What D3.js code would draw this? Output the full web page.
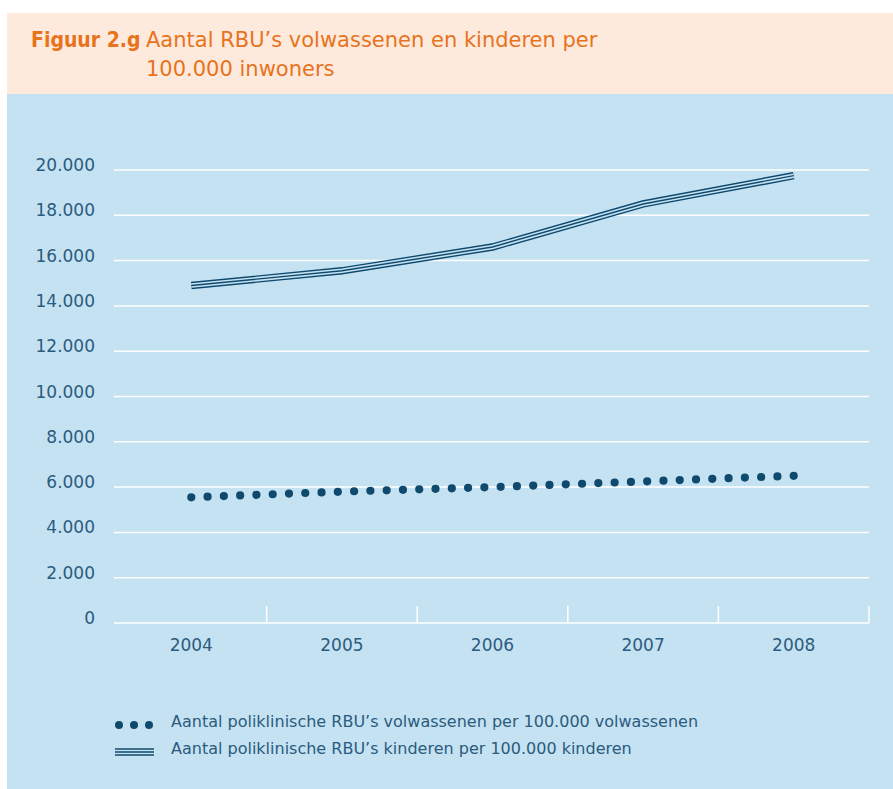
<!DOCTYPE html>
<head>
  <meta charset = "utf-8">
  <title>Figuur 2.g</title>
  <script src = "https://cdn.jsdelivr.net/npm/d3@7"></script>
  <style>
    body { margin: 0; background: #fff; }
    text { font-family: "DejaVu Sans", sans-serif; }
  </style>
</head>

<body>

  <script type="text/javascript">
    var WIDTH = 893;
    var HEIGHT = 789;

    //===========data
    var years = ["2004", "2005", "2006", "2007", "2008"];
    var volwassenen = [5550, 5800, 6000, 6250, 6500];   // per 100.000 volwassenen
    var kinderen = [14900, 15550, 16600, 18500, 19750]; // per 100.000 kinderen
    var yTicks = [0, 2000, 4000, 6000, 8000, 10000, 12000, 14000, 16000, 18000, 20000];
    var legendLabels = [
      "Aantal poliklinische RBU\u2019s volwassenen per 100.000 volwassenen",
      "Aantal poliklinische RBU\u2019s kinderen per 100.000 kinderen"
    ];

    var ORANGE = "#e8731d";
    var PEACH = "#fdeadc";
    var PANEL = "#c5e2f3";
    var DARK = "#0f4a6e";
    var TEXT = "#2b5b7d";

    var svg = d3.select("body").append("svg")
                .attr("width",  WIDTH)
                .attr("height", HEIGHT);

    //===========background boxes
    svg.append("rect")
      .attr("x", 7).attr("y", 13)
      .attr("width", WIDTH - 7).attr("height", 81)
      .attr("fill", PEACH);
    svg.append("rect")
      .attr("x", 7).attr("y", 94)
      .attr("width", WIDTH - 7).attr("height", HEIGHT - 94)
      .attr("fill", PANEL);

    //===========title
    svg.append("text")
      .attr("x", 31).attr("y", 47)
      .attr("fill", ORANGE)
      .attr("font-weight", "bold")
      .style("font-family", "'DejaVu Sans Condensed', 'DejaVu Sans', sans-serif")
      .style("font-size", "21px")
      .text("Figuur 2.g");
    svg.append("text")
      .attr("x", 146).attr("y", 47)
      .attr("fill", ORANGE)
      .style("font-size", "21px")
      .text("Aantal RBU\u2019s volwassenen en kinderen per");
    svg.append("text")
      .attr("x", 146).attr("y", 76)
      .attr("fill", ORANGE)
      .style("font-size", "21px")
      .text("100.000 inwoners");

    //===========scales
    var x = d3.scaleBand()
              .domain(years)
              .range([116, 869]);
    var y = d3.scaleLinear()
              .domain([0, 20000])
              .range([623, 170]);

    var nl = d3.formatLocale({decimal: ",", thousands: ".", grouping: [3], currency: ["€", ""]});
    var fmt = nl.format(",d");

    //===========grid + y labels
    svg.selectAll("line.grid")
      .data(yTicks)
      .enter().append("line")
      .attr("class", "grid")
      .attr("x1", 114).attr("x2", 869)
      .attr("y1", function(d){ return y(d); })
      .attr("y2", function(d){ return y(d); })
      .attr("stroke", "#fff")
      .attr("stroke-width", 1.5);

    svg.selectAll("text.ylab")
      .data(yTicks)
      .enter().append("text")
      .attr("class", "ylab")
      .attr("x", 95)
      .attr("y", function(d){ return y(d) + 1; })
      .attr("text-anchor", "end")
      .attr("fill", TEXT)
      .style("font-size", "17px")
      .text(fmt);

    //===========x ticks + labels
    svg.selectAll("line.xtick")
      .data(years)
      .enter().append("line")
      .attr("class", "xtick")
      .attr("x1", function(d){ return x(d) + x.bandwidth(); })
      .attr("x2", function(d){ return x(d) + x.bandwidth(); })
      .attr("y1", 606).attr("y2", y(0))
      .attr("stroke", "#fff")
      .attr("stroke-width", 1.5);

    svg.selectAll("text.xlab")
      .data(years)
      .enter().append("text")
      .attr("class", "xlab")
      .attr("x", function(d){ return x(d) + x.bandwidth() / 2; })
      .attr("y", 651)
      .attr("text-anchor", "middle")
      .attr("fill", TEXT)
      .style("font-size", "17px")
      .text(function(d){ return d; });

    //===========lines
    var line = d3.line()
                 .x(function(d, i){ return x(years[i]) + x.bandwidth() / 2; })
                 .y(function(d){ return y(d); });

    // triple line: dark, panel colour, dark
    [[7.4, DARK], [4.6, PANEL], [1.4, DARK]].forEach(function(s){
      svg.append("path")
        .attr("d", line(kinderen))
        .attr("fill", "none")
        .attr("stroke", s[1])
        .attr("stroke-width", s[0]);
    });

    // dotted line, spacing fitted so the last dot sits on 2008
    var dots = svg.append("path")
      .attr("d", line(volwassenen))
      .attr("fill", "none")
      .attr("stroke", DARK)
      .attr("stroke-width", 8.2)
      .attr("stroke-linecap", "round");
    var len = dots.node().getTotalLength();
    var gap = len / Math.round(len / 16.2);
    dots.attr("stroke-dasharray", "0 " + gap);

    //===========legend
    svg.selectAll("circle.leg")
      .data([119, 134, 149])
      .enter().append("circle")
      .attr("class", "leg")
      .attr("cx", function(d){ return d; })
      .attr("cy", 725)
      .attr("r", 4)
      .attr("fill", DARK);

    [[7.4, DARK], [4.6, PANEL], [1.4, DARK]].forEach(function(s){
      svg.append("line")
        .attr("x1", 115).attr("x2", 154)
        .attr("y1", 752).attr("y2", 752)
        .attr("stroke", s[1])
        .attr("stroke-width", s[0]);
    });

    svg.selectAll("text.leg")
      .data(legendLabels)
      .enter().append("text")
      .attr("class", "leg")
      .attr("x", 171)
      .attr("y", function(d, i){ return 727 + i * 27; })
      .attr("fill", TEXT)
      .style("font-size", "16px")
      .text(function(d){ return d; });

  </script>
</body>
